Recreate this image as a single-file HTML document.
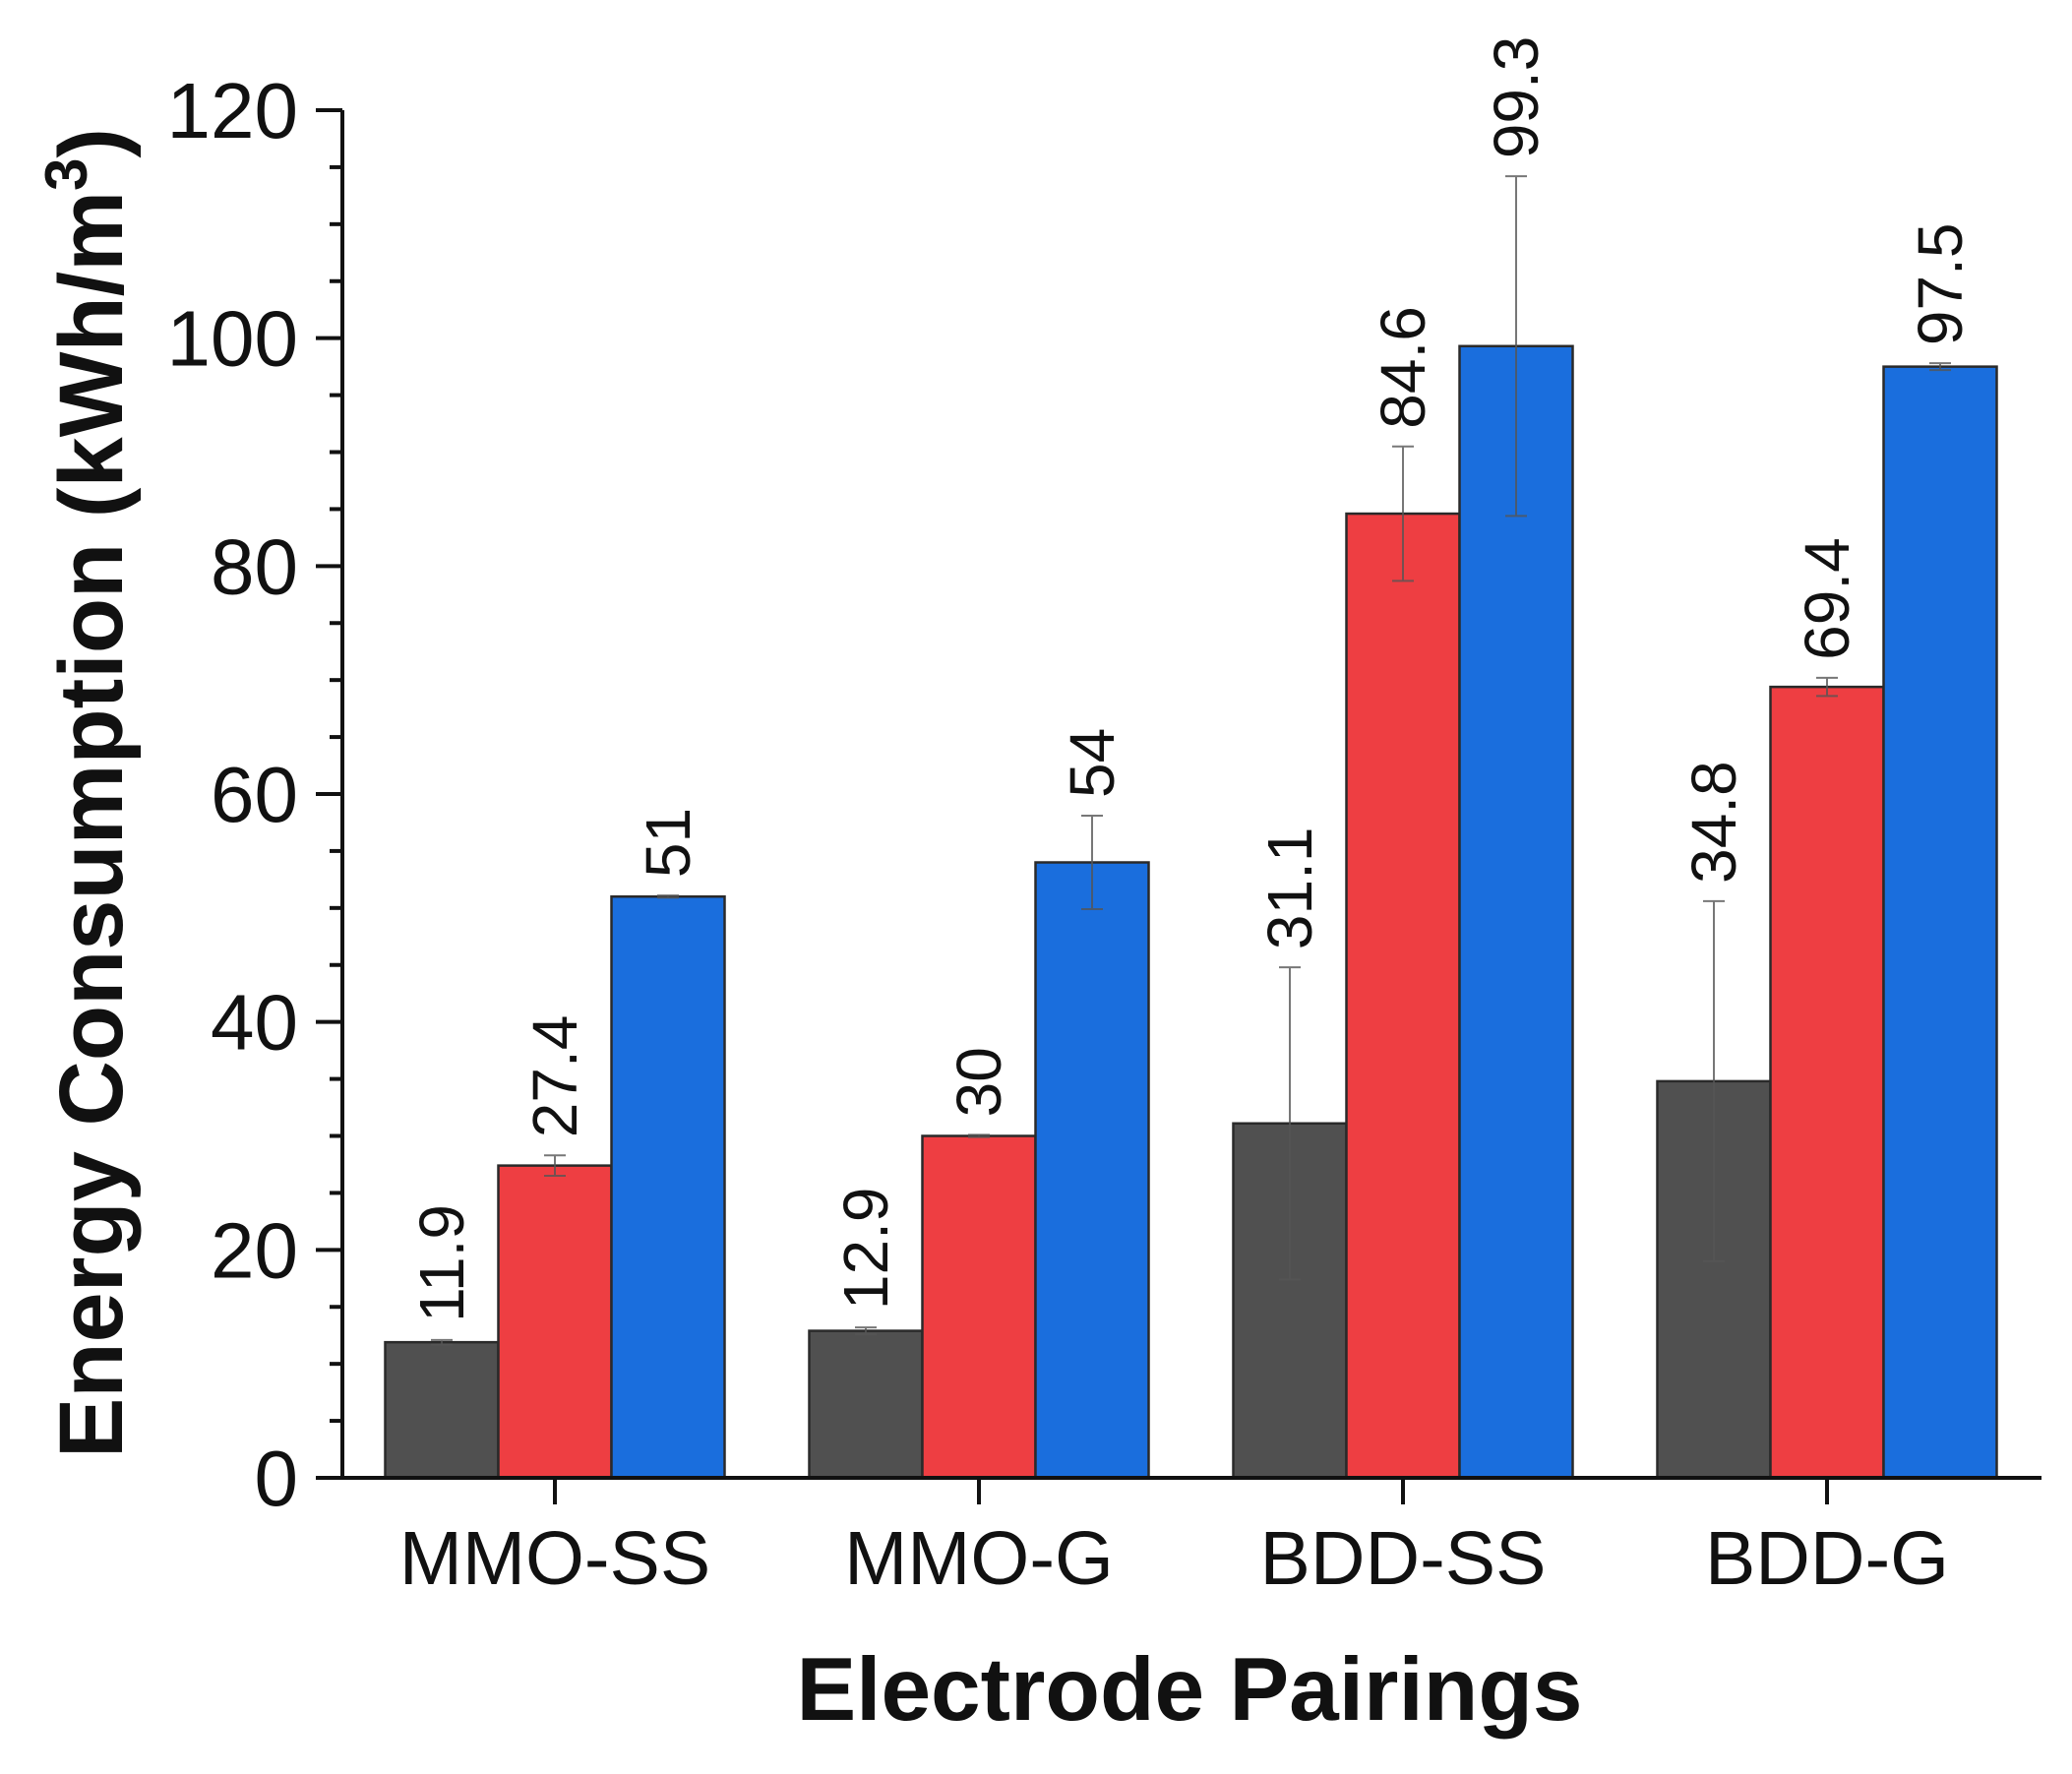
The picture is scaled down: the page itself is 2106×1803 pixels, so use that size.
<!DOCTYPE html>
<html><head><meta charset="utf-8"><style>
html,body{margin:0;padding:0;background:#fff}
svg{display:block}
text{font-family:"Liberation Sans",Arial,sans-serif;fill:#111}
</style></head><body>
<svg id="chart" width="2106" height="1803" viewBox="0 0 2106 1803" xmlns="http://www.w3.org/2000/svg">
<g id="plot"></g>
<text x="1209" y="1748" font-size="91" font-weight="bold" text-anchor="middle">Electrode Pairings</text>
<text transform="translate(124,806) rotate(-90)" font-size="92" font-weight="bold" text-anchor="middle">Energy Consumption (kWh/m<tspan font-size="60" dy="-36">3</tspan><tspan dy="36">)</tspan></text>
</svg>
<script>
const categories = ["MMO-SS","MMO-G","BDD-SS","BDD-G"];
const seriesGray = [11.9, 12.9, 31.1, 34.8];
const seriesRed = [27.4, 30, 84.6, 69.4];
const seriesBlue = [51, 54, 99.3, 97.5];
const errGray = [0.2, 0.3, 13.7, 15.8];
const errRed = [0.9, 0.1, 5.9, 0.8];
const errBlue = [0.1, 4.1, 14.9, 0.3];
const yTicks = [0, 20, 40, 60, 80, 100, 120];
const labelsGray = ["11.9","12.9","31.1","34.8"];
const labelsRed = ["27.4","30","84.6","69.4"];
const labelsBlue = ["51","54","99.3","97.5"];

const NS = "http://www.w3.org/2000/svg";
const g = document.getElementById('plot');
const X0 = 348, X1 = 2075, Y0 = 1502, Ytop = 112, YMAX = 120;
const y = v => Y0 - (v / YMAX) * (Y0 - Ytop);
const xc = i => 564 + i * 431;
const BW = 115;
function el(tag, attrs){ const e = document.createElementNS(NS, tag); for (const k in attrs) e.setAttribute(k, attrs[k]); g.appendChild(e); return e; }

const series = [
  {vals: seriesGray, errs: errGray, labs: labelsGray, color: "#505050", name: "gray"},
  {vals: seriesRed, errs: errRed, labs: labelsRed, color: "#ee3e42", name: "red"},
  {vals: seriesBlue, errs: errBlue, labs: labelsBlue, color: "#1a6edd", name: "blue"}
];
series.forEach((s, si) => {
  s.vals.forEach((v, i) => {
    const left = xc(i) - 1.5 * BW + si * BW;
    const r = el('rect', {x: left, y: y(v), width: BW, height: Y0 - y(v), fill: s.color, stroke: "#2a2a2a", "stroke-width": 2.5});
    
    
    const cx = left + BW / 2, top = y(v + s.errs[i]), bot = y(v - s.errs[i]);
    const eb = el('path', {d: `M${cx},${top}V${bot}M${cx-11},${top}H${cx+11}M${cx-11},${bot}H${cx+11}`, stroke: "#555", "stroke-width": 2, fill: "none", opacity: 0.8});
    
    
    const t = el('text', {transform: `translate(${cx + 22},${top - 18}) rotate(-90)`, "font-size": 64});
    t.textContent = s.labs[i];
    
    
  });
});
const ax = el('path', {d: `M${X0},${Ytop}V${Y0}M${X0-2},${Y0}H${X1}`, stroke: "#111", "stroke-width": 4, fill: "none"});


for (let v = 0; v <= YMAX; v += 5) {
  const major = v % 20 === 0;
  const tk = el('line', {x1: X0 - (major ? 27 : 13), x2: X0, y1: y(v), y2: y(v), stroke: "#111", "stroke-width": 4});
  
  
}
yTicks.forEach(v => {
  const t = el('text', {x: 303, y: y(v) + 28, "font-size": 80, "text-anchor": "end"});
  t.textContent = v;
  
  
});
categories.forEach((c, i) => {
  const tk = el('line', {x1: xc(i), x2: xc(i), y1: Y0, y2: Y0 + 27, stroke: "#111", "stroke-width": 4});
  
  
  const t = el('text', {x: xc(i), y: 1610, "font-size": 77, "text-anchor": "middle"});
  t.textContent = c;
  
  
});
</script>
</body></html>
